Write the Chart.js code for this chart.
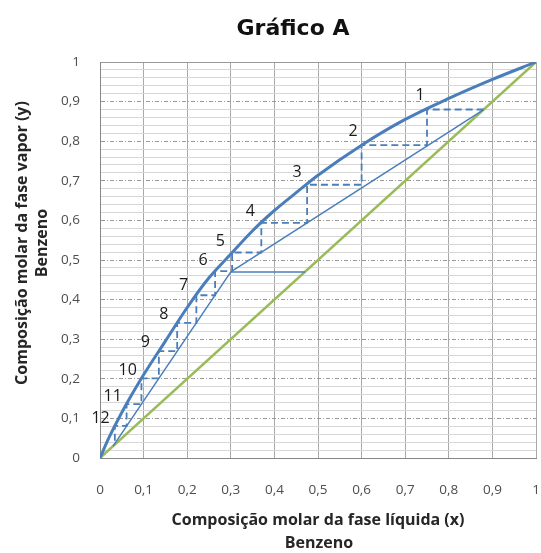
<!DOCTYPE html>
<html>
<head>
<meta charset="UTF-8" />
<title>Gráfico A</title>
<style>
    html, body { margin: 0; padding: 0; background: #fff; }
    #grafico { display: block; }
</style>
</head>
<body>
<canvas id="grafico" width="541" height="553"></canvas>
<script src="https://cdn.jsdelivr.net/npm/chart.js"></script>
<script>
// curva de equilibrio (benzeno)
const eqX = [0, 0.02, 0.05, 0.1, 0.15, 0.2, 0.25, 0.3, 0.35, 0.4, 0.45, 0.5, 0.6, 0.7, 0.8, 0.9, 1];
const eqY = [0, 0.05, 0.115, 0.21, 0.295, 0.38, 0.455, 0.515, 0.574, 0.625, 0.67, 0.714, 0.79, 0.855, 0.908, 0.956, 1];

// diagonal y = x
const diagX = [0, 1];
const diagY = [0, 1];

// retas de operacao e reta q
const rectX = [0.88, 0.30];
const rectY = [0.88, 0.47];
const stripX = [0.30, 0.03];
const stripY = [0.47, 0.03];
const feedX = [0.30, 0.47];
const feedY = [0.47, 0.47];

// degraus (pratos)
const stepX = [0.88, 0.75, 0.75, 0.60, 0.60, 0.475, 0.475, 0.37, 0.37, 0.303, 0.303, 0.264, 0.264,
               0.221, 0.221, 0.177, 0.177, 0.135, 0.135, 0.095, 0.095, 0.061, 0.061, 0.034, 0.034];
const stepY = [0.88, 0.88, 0.79, 0.79, 0.69, 0.69, 0.594, 0.594, 0.519, 0.519, 0.472, 0.472, 0.411,
               0.411, 0.341, 0.341, 0.270, 0.270, 0.201, 0.201, 0.136, 0.136, 0.081, 0.081, 0.034];
const stageLabels = ['1', '2', '3', '4', '5', '6', '7', '8', '9', '10', '11', '12'];

const xTicks = ['0', '0,1', '0,2', '0,3', '0,4', '0,5', '0,6', '0,7', '0,8', '0,9', '1'];
const yTicks = ['0', '0,1', '0,2', '0,3', '0,4', '0,5', '0,6', '0,7', '0,8', '0,9', '1'];

const titulo = 'Gráfico A';
const tituloX = ['Composição molar da fase líquida (x)', 'Benzeno'];
const tituloY = ['Composição molar da fase vapor (y)', 'Benzeno'];

const azul = '#4a7ebb';
const verde = '#9bbb59';

function pts(xs, ys) {
    return xs.map((v, i) => ({x: v, y: ys[i]}));
}

function eqAt(v) {
    for (let i = 1; i < eqX.length; i++) {
        if (v <= eqX[i]) {
            const t = (v - eqX[i - 1]) / (eqX[i] - eqX[i - 1]);
            return eqY[i - 1] + t * (eqY[i] - eqY[i - 1]);
        }
    }
    return 1;
}

function isMajor(v) {
    return Math.round(v * 100) % 10 === 0;
}

// numeros dos pratos, deslocados para fora da curva
const stagePlugin = {
    id: 'stageLabels',
    afterDatasetsDraw(chart) {
        const {ctx, scales: {x, y}} = chart;
        ctx.save();
        ctx.font = '16px "Open Sans"';
        ctx.fillStyle = '#1a1a1a';
        ctx.textAlign = 'center';
        ctx.textBaseline = 'middle';
        stageLabels.forEach((lab, i) => {
            const sx = stepX[2 * i + 1], sy = stepY[2 * i + 1];
            const px = x.getPixelForValue(sx), py = y.getPixelForValue(sy);
            const a = Math.max(sx - 0.02, 0), b = Math.min(sx + 0.02, 1);
            const dx = x.getPixelForValue(b) - x.getPixelForValue(a);
            const dy = y.getPixelForValue(eqAt(a)) - y.getPixelForValue(eqAt(b));
            const s = dy / dx;
            const n = Math.sqrt(1 + s * s);
            const r = 16;
            ctx.fillText(lab, px - r * s / n, py - r / n);
        });
        ctx.restore();
    }
};

// titulos
const titlePlugin = {
    id: 'titulos',
    afterDraw(chart) {
        const {ctx, chartArea: ca} = chart;
        const cx = (ca.left + ca.right) / 2;
        const cy = (ca.top + ca.bottom) / 2;
        ctx.save();
        ctx.textAlign = 'center';
        ctx.textBaseline = 'middle';
        ctx.fillStyle = '#111';
        ctx.font = 'bold 22px "DejaVu Sans"';
        ctx.fillText(titulo, cx - 25, ca.top - 33);

        ctx.fillStyle = '#262626';
        ctx.font = 'bold 16px "Open Sans"';
        ctx.fillText(tituloX[0], cx, ca.bottom + 62);
        ctx.fillText(tituloX[1], cx + 1, ca.bottom + 85);

        ctx.translate(22, cy - 17);
        ctx.rotate(-Math.PI / 2);
        ctx.fillText(tituloY[0], 0, 0);
        ctx.fillText(tituloY[1], 0, 20);
        ctx.restore();
    }
};

const ctx = document.getElementById('grafico');

new Chart(ctx, {
    type: 'scatter',
    data: {
        datasets: [
            {
                label: 'equilibrio',
                data: pts(eqX, eqY),
                showLine: true,
                borderColor: azul,
                borderWidth: 3,
                cubicInterpolationMode: 'monotone',
                pointRadius: 0,
                order: 1
            },
            {
                label: 'pratos',
                data: pts(stepX, stepY),
                showLine: true,
                borderColor: azul,
                borderWidth: 1.8,
                borderDash: [7, 4],
                pointRadius: 0,
                order: 2
            },
            {
                label: 'retificacao',
                data: pts(rectX, rectY),
                showLine: true,
                borderColor: azul,
                borderWidth: 1.5,
                pointRadius: 0,
                order: 3
            },
            {
                label: 'esgotamento',
                data: pts(stripX, stripY),
                showLine: true,
                borderColor: azul,
                borderWidth: 1.5,
                pointRadius: 0,
                order: 3
            },
            {
                label: 'alimentacao',
                data: pts(feedX, feedY),
                showLine: true,
                borderColor: azul,
                borderWidth: 1.5,
                pointRadius: 0,
                order: 3
            },
            {
                label: 'diagonal',
                data: pts(diagX, diagY),
                showLine: true,
                borderColor: verde,
                borderWidth: 2.5,
                pointRadius: 0,
                order: 4
            }
        ]
    },
    options: {
        responsive: false,
        animation: false,
        layout: {
            padding: {top: 62, right: 5, bottom: 0, left: 0}
        },
        plugins: {
            legend: {display: false},
            tooltip: {enabled: false}
        },
        scales: {
            x: {
                type: 'linear',
                min: 0,
                max: 1,
                afterFit: (scale) => {
                    scale.height = 95;
                    scale.paddingLeft = 0;
                    scale.paddingRight = 0;
                },
                ticks: {
                    stepSize: 0.1,
                    padding: 24,
                    color: '#4d4d4d',
                    font: {family: 'Open Sans', size: 13.5},
                    callback: (v) => xTicks[Math.round(v * 10)]
                },
                grid: {
                    color: '#a8a8a8',
                    drawTicks: false
                },
                border: {color: '#868686'}
            },
            y: {
                type: 'linear',
                min: 0,
                max: 1,
                afterFit: (scale) => {
                    scale.width = 100;
                    scale.paddingTop = 0;
                    scale.paddingBottom = 0;
                },
                ticks: {
                    stepSize: 0.02,
                    autoSkip: false,
                    padding: 20,
                    color: '#4d4d4d',
                    font: {family: 'Open Sans', size: 13.5},
                    callback: (v) => isMajor(v) ? yTicks[Math.round(v * 10)] : ''
                },
                grid: {
                    color: (c) => (c.tick && isMajor(c.tick.value)) ? '#9a9a9a' : '#d6d6d6',
                    drawTicks: false
                },
                border: {
                    color: '#868686',
                    dash: (c) => (c.tick && isMajor(c.tick.value) && c.tick.value > 0 && c.tick.value < 1) ? [4, 2, 1, 2] : []
                }
            }
        }
    },
    plugins: [stagePlugin, titlePlugin]
});
</script>
</body>
</html>
